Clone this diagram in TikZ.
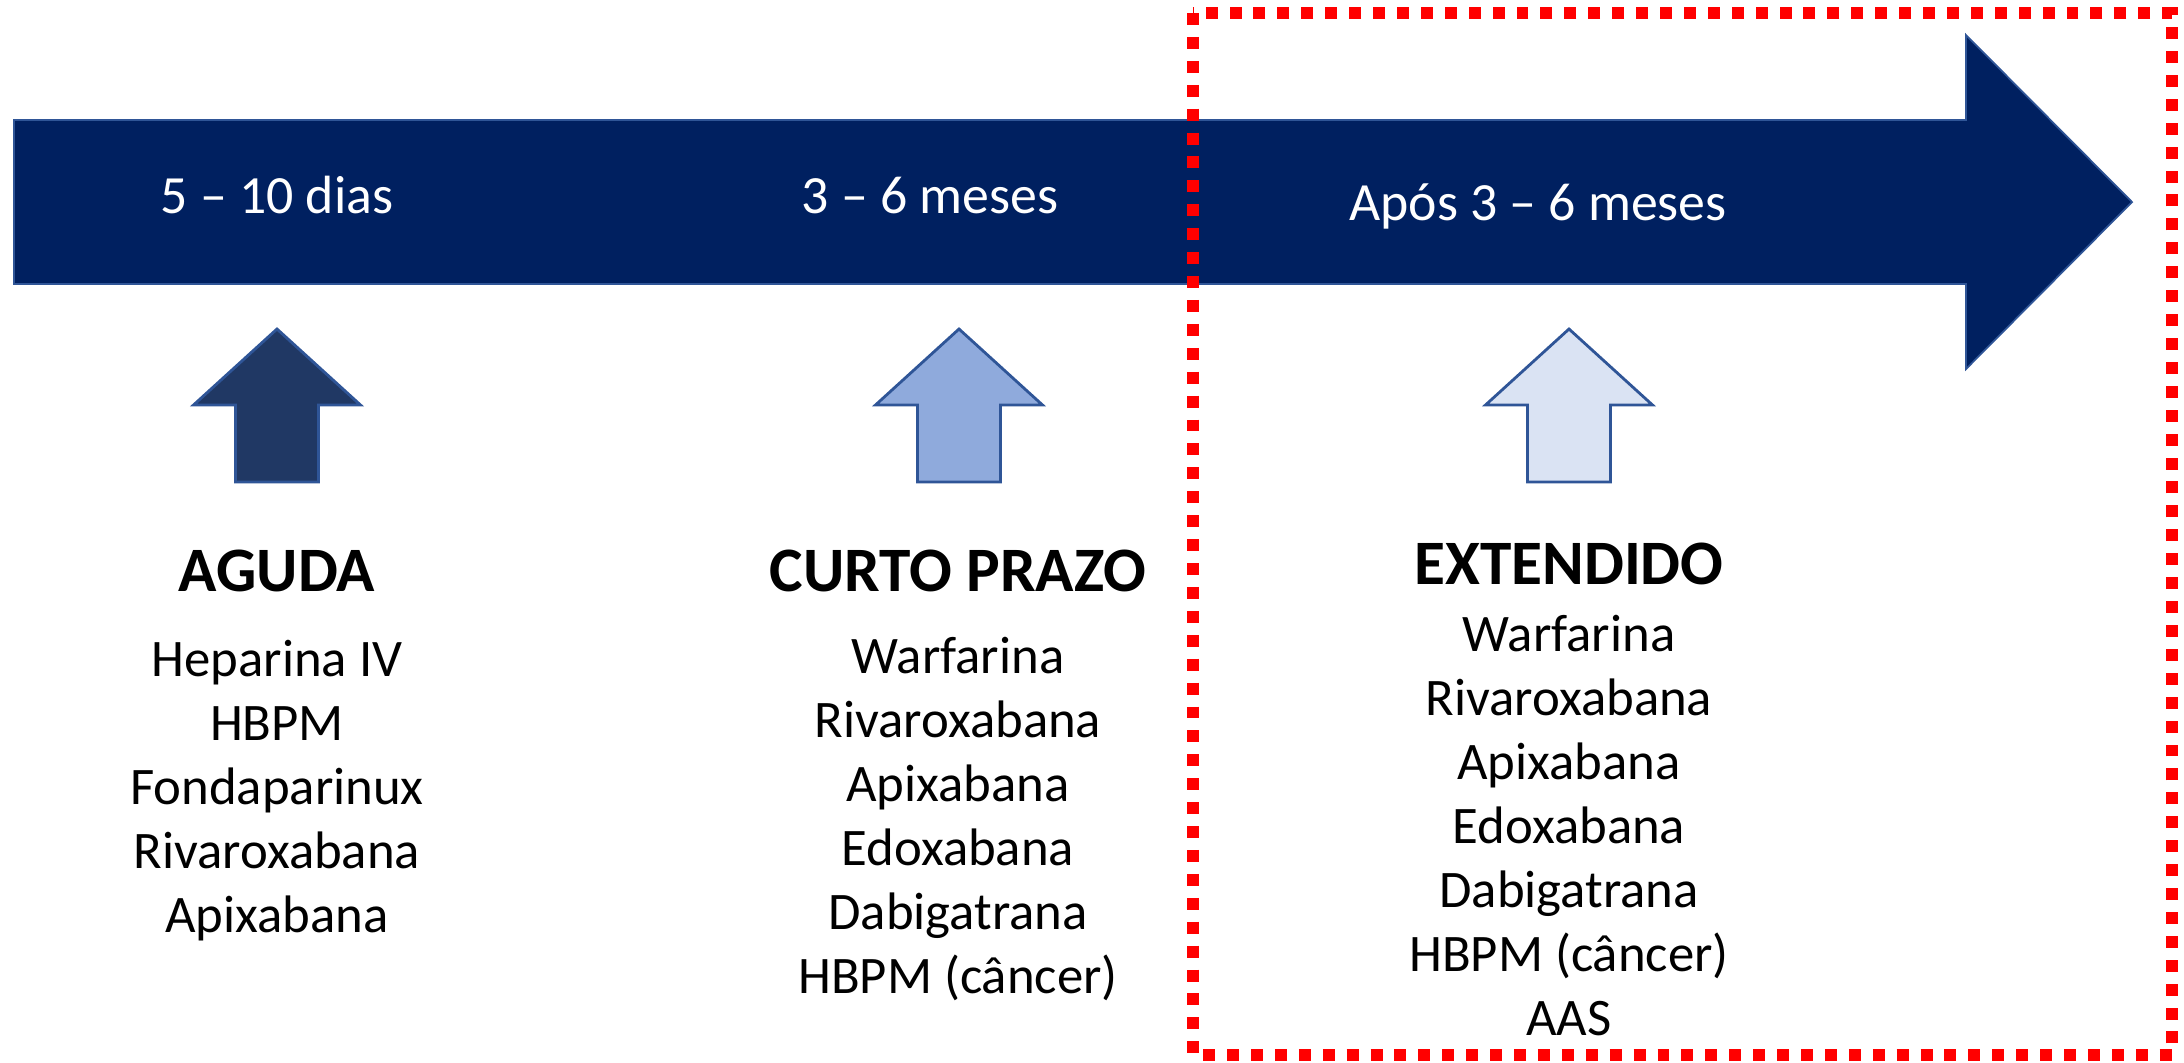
\documentclass[tikz,border=0pt]{standalone}
\usepackage{fontspec}
\setmainfont{Carlito}
\usepackage{tikz}

\definecolor{navy}{HTML}{002060}
\definecolor{edgeblue}{HTML}{2F5597}
\definecolor{darkfill}{HTML}{203864}
\definecolor{midfill}{HTML}{8FAADC}
\definecolor{lightfill}{HTML}{DAE3F3}
\definecolor{boxred}{HTML}{FF0000}

\begin{document}
\begin{tikzpicture}[x=0.01cm, y=-0.01cm,
                    period/.style={text=white, font=\fontsize{15.3}{18}\selectfont, anchor=base, inner sep=0pt},
                    phase/.style={font=\fontsize{18}{22}\selectfont\bfseries, inner sep=0pt},
                    drugs/.style={font=\fontsize{15}{18.2}\selectfont, align=center, inner sep=0pt},
                    uparrow/.style={draw=edgeblue, line width=0.8pt, line join=miter}]
  \useasboundingbox (0,0) rectangle (2184,1062);

  % time line
  \draw[fill=navy, draw=edgeblue, line width=0.5pt]
    (14,120) -- (1966,120) -- (1966,35) -- (2132,202) -- (1966,369) -- (1966,284) -- (14,284) -- cycle;
  \node[period] (dias) at (277,213) {5 – 10 dias};
  \node[period] (meses) at (930,213) {3 – 6 meses};
  \node[period] (apos) at (1538,220) {Após 3 – 6 meses};

  % small arrows
  \draw[uparrow, fill=darkfill]
    (277,329) -- ++(83.5,76) -- ++(-42,0) -- ++(0,77) -- ++(-83,0) -- ++(0,-77) -- ++(-42,0) -- cycle;
  \draw[uparrow, fill=midfill]
    (959,329) -- ++(83.5,76) -- ++(-42,0) -- ++(0,77) -- ++(-83,0) -- ++(0,-77) -- ++(-42,0) -- cycle;
  \draw[uparrow, fill=lightfill]
    (1569,329) -- ++(83.5,76) -- ++(-42,0) -- ++(0,77) -- ++(-83,0) -- ++(0,-77) -- ++(-42,0) -- cycle;

  % phases
  \node[phase] (aguda) at (277,571) {AGUDA};
  \node[phase] (curto) at (958,571) {CURTO PRAZO};
  \node[phase] (ext) at (1569,564) {EXTENDIDO};

  \node[drugs] (agudalist) at (277,791)
    {Heparina IV\\HBPM\\Fondaparinux\\Rivaroxabana\\Apixabana};
  \node[drugs] (curtolist) at (958,819)
    {Warfarina\\Rivaroxabana\\Apixabana\\Edoxabana\\Dabigatrana\\HBPM (câncer)};
  \node[drugs] (extlist) at (1569,826)
    {Warfarina\\Rivaroxabana\\Apixabana\\Edoxabana\\Dabigatrana\\HBPM (câncer)\\AAS};

  % extended period frame
  \draw[boxred, line width=3.4pt, dash pattern=on 3.4pt off 3.4pt] (1193,13) rectangle (2172,1055);
\end{tikzpicture}
\end{document}
